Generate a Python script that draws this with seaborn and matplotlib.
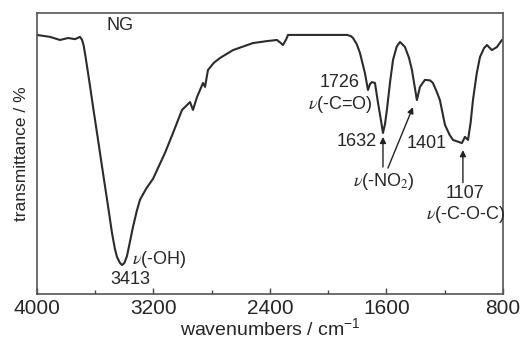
import matplotlib
matplotlib.use("Agg")
import matplotlib.pyplot as plt
from matplotlib.ticker import MultipleLocator
import seaborn as sns
import pandas as pd

wavenumber = [4000, 3911, 3842, 3787, 3739, 3705, 3691, 3680, 3670, 3655, 3636, 3612, 3588,
              3547, 3510, 3485, 3465, 3451, 3430, 3416, 3400, 3382, 3362, 3341, 3315, 3293,
              3250, 3203, 3121, 3066, 3004, 2949, 2929, 2901, 2860, 2846, 2826, 2785, 2743,
              2654, 2517, 2421, 2352, 2330, 2311, 2290, 2276, 2077, 1871, 1845, 1830, 1805,
              1782, 1748, 1727, 1712, 1700, 1679, 1658, 1640, 1624, 1610, 1597, 1575, 1555,
              1530, 1507, 1473, 1445, 1425, 1391, 1370, 1336, 1300, 1281, 1255, 1233, 1198,
              1165, 1143, 1082, 1061, 1040, 1022, 1006, 980, 958, 930, 910, 876, 841, 807]
transmittance = [92.2, 91.5, 90.4, 91.1, 90.7, 91.5, 90.5, 88.5, 85.5, 80.5, 74.0, 65.5, 57.3,
                 43.1, 30.5, 21.7, 16.0, 13.2, 11.0, 10.3, 11.0, 13.5, 18.5, 23.8, 29.5, 33.5,
                 37.5, 41.0, 50.2, 57.3, 65.5, 68.3, 65.5, 70.1, 75.1, 73.7, 79.7, 82.3, 84.0,
                 86.8, 89.3, 90.0, 90.4, 89.5, 88.6, 90.5, 92.2, 92.2, 92.2, 91.8, 91.1, 89.0,
                 85.8, 78.6, 72.6, 74.8, 75.4, 75.1, 68.0, 62.5, 57.3, 60.5, 65.5, 75.5, 83.3,
                 88.0, 89.7, 87.9, 84.0, 79.7, 69.0, 73.7, 76.2, 76.0, 75.1, 72.0, 69.0, 60.1,
                 56.5, 54.8, 53.7, 55.9, 54.8, 61.0, 69.0, 78.5, 84.3, 87.5, 88.6, 86.8, 87.9, 90.4]
tick_values = [4000, 3200, 2400, 1600, 800]

df = pd.DataFrame({"w": wavenumber, "t": transmittance})

sns.set_style("ticks")
plt.rcParams["font.family"] = ["Liberation Sans", "DejaVu Sans"]
plt.rcParams["mathtext.fontset"] = "stix"

fig = plt.figure(figsize=(5.25, 3.47), dpi=100)
ax = fig.add_axes([0.0705, 0.153, 0.8875, 0.8095])
sns.lineplot(data=df, x="w", y="t", ax=ax, color="#2b2b2b", lw=1.5, sort=False)

ax.set_xlim(4000, 800)
ax.set_ylim(0, 100)
ax.set_xticks(tick_values)
ax.set_xticklabels([str(v) for v in tick_values], fontsize=15)
ax.xaxis.set_minor_locator(MultipleLocator(400))
ax.tick_params(axis="x", which="major", direction="in", length=4, width=1, pad=4, color="#444")
ax.tick_params(axis="x", which="minor", direction="in", length=3, width=1, color="#444")
ax.set_yticks([])
for s in ax.spines.values():
    s.set_color("#555")
    s.set_linewidth(1.2)

ax.set_xlabel("wavenumbers / cm$^{\\mathregular{-1}}$", fontsize=14, labelpad=0)
ax.set_ylabel("transmittance / %", fontsize=12.5, labelpad=6)

fs = 13
ax.text(3430, 95.7, "NG", fontsize=fs, ha="center", va="center")
ax.text(3348, 12.1, "$\\nu$(-OH)", fontsize=fs, ha="left", va="center")
ax.text(3361, 5.0, "3413", fontsize=fs, ha="center", va="center")
ax.text(1782, 75.4, "1726", fontsize=fs, ha="right", va="center")
ax.text(1693, 67.3, "$\\nu$(-C=O)", fontsize=fs, ha="right", va="center")
ax.text(1665, 54.1, "1632", fontsize=fs, ha="right", va="center")
ax.text(1617, 39.9, "$\\nu$(-NO$_2$)", fontsize=fs, ha="center", va="center")
ax.text(1322, 53.7, "1401", fontsize=fs, ha="center", va="center")
ax.text(1061, 35.6, "1107", fontsize=fs, ha="center", va="center")
ax.text(1055, 28.2, "$\\nu$(-C-O-C)", fontsize=fs, ha="center", va="center")

ap = dict(arrowstyle="-|>", lw=1.0, color="#222", mutation_scale=9, shrinkA=0, shrinkB=0)
ax.annotate("", xy=(1624, 55.9), xytext=(1624, 45.2), arrowprops=ap)
ax.annotate("", xy=(1418, 66.5), xytext=(1590, 44.8), arrowprops=ap)
ax.annotate("", xy=(1075, 51.2), xytext=(1075, 39.6), arrowprops=ap)

fig.savefig("out.png", dpi=100)
